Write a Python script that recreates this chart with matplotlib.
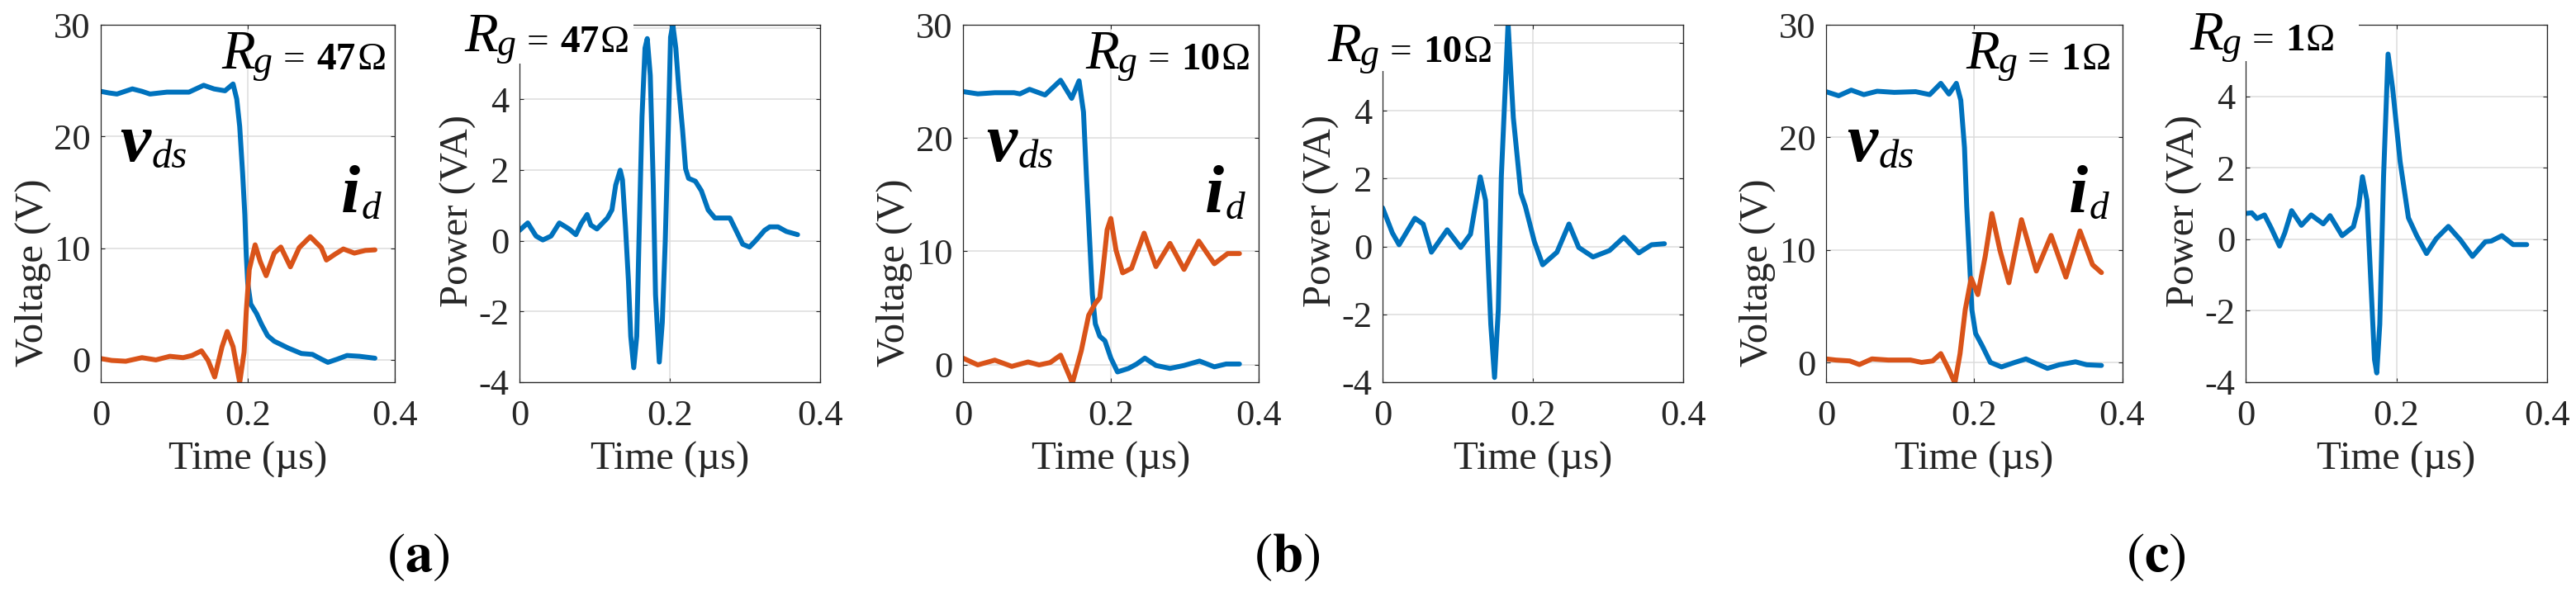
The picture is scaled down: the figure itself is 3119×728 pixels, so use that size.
import matplotlib
matplotlib.use("Agg")
import matplotlib.pyplot as plt
from matplotlib.patches import Rectangle

plt.rcParams['mathtext.fontset'] = 'stix'
plt.rcParams['font.family'] = ['Liberation Serif', 'DejaVu Serif']
plt.rcParams['axes.unicode_minus'] = False

BLUE = '#0072BD'
ORANGE = '#D95319'
DARK = '#262626'
GRID = '#dcdcdc'

# ---------------- data (a) Rg = 47 ohm ----------------
t_vds_a = [0, 0.011, 0.022, 0.043, 0.056, 0.067, 0.09, 0.12, 0.14, 0.154, 0.169, 0.18, 0.185, 0.189,
           0.193, 0.196, 0.198, 0.2, 0.204, 0.212, 0.219, 0.227, 0.236, 0.255, 0.273, 0.288, 0.3,
           0.309, 0.322, 0.335, 0.352, 0.373]
vds_a = [24.04, 23.9, 23.8, 24.26, 24.04, 23.8, 23.97, 23.97, 24.58, 24.26, 24.09, 24.7, 23.35, 20.9,
         16.7, 13.0, 9.3, 6.85, 5.0, 4.14, 3.15, 2.17, 1.67, 1.06, 0.57, 0.49, 0.07,
         -0.22, 0.07, 0.39, 0.32, 0.15]
t_id_a = [0, 0.015, 0.034, 0.056, 0.075, 0.094, 0.112, 0.124, 0.137, 0.146, 0.155, 0.165, 0.172, 0.18,
          0.189, 0.195, 0.198, 0.202, 0.21, 0.217, 0.225, 0.236, 0.245, 0.258, 0.27, 0.285, 0.3,
          0.307, 0.318, 0.33, 0.345, 0.36, 0.373]
id_a = [0.12, -0.05, -0.12, 0.2, 0.0, 0.32, 0.2, 0.39, 0.81, -0.05, -1.53, 1.18, 2.54, 1.18,
        -2.02, 0.69, 4.38, 8.08, 10.3, 8.8, 7.54, 9.56, 10.1, 8.33, 10.05, 11.03, 10.05,
        8.94, 9.43, 9.93, 9.56, 9.8, 9.85]
t_p_a = [0, 0.011, 0.022, 0.031, 0.042, 0.053, 0.066, 0.075, 0.082, 0.09, 0.095, 0.103, 0.117, 0.123,
         0.128, 0.134, 0.137, 0.141, 0.145, 0.148, 0.152, 0.156, 0.159, 0.163, 0.167, 0.17, 0.174,
         0.178, 0.181, 0.186, 0.19, 0.194, 0.198, 0.201, 0.204, 0.208, 0.212, 0.217, 0.221, 0.225,
         0.234, 0.242, 0.251, 0.26, 0.271, 0.28, 0.289, 0.297, 0.306, 0.315, 0.326, 0.333, 0.344,
         0.355, 0.37]
p_a = [0.29, 0.5, 0.13, 0.02, 0.13, 0.5, 0.33, 0.17, 0.48, 0.74, 0.44, 0.33, 0.64, 0.87,
       1.57, 1.99, 1.72, 0.4, -1.15, -2.7, -3.59, -2.7, 0.02, 3.5, 5.44, 5.71, 4.67,
       1.57, -1.53, -3.43, -2.31, 0.02, 3.12, 5.75, 6.1, 5.44, 4.28, 3.12, 2.03, 1.76,
       1.68, 1.41, 0.87, 0.64, 0.64, 0.64, 0.25, -0.1, -0.18, 0.02, 0.29, 0.39, 0.39,
       0.26, 0.17]

# ---------------- data (b) Rg = 10 ohm ----------------
t_vds_b = [0, 0.02, 0.043, 0.069, 0.077, 0.09, 0.111, 0.132, 0.147, 0.157, 0.163, 0.167, 0.171, 0.175,
           0.179, 0.185, 0.192, 0.2, 0.209, 0.224, 0.235, 0.246, 0.261, 0.28, 0.299, 0.32, 0.34, 0.356, 0.374]
vds_b = [24.1, 23.9, 24.0, 24.0, 23.9, 24.3, 23.8, 25.1, 23.5, 25.05, 22.3, 16.6, 11.4, 6.2,
         3.6, 2.5, 2.1, 0.57, -0.65, -0.34, 0.05, 0.57, -0.08, -0.34, -0.08, 0.31, -0.2, 0.05, 0.05]
t_id_b = [0, 0.02, 0.043, 0.066, 0.088, 0.103, 0.118, 0.132, 0.148, 0.16, 0.17, 0.179, 0.185, 0.19,
          0.195, 0.2, 0.207, 0.216, 0.228, 0.245, 0.261, 0.28, 0.299, 0.319, 0.34, 0.358, 0.374]
id_b = [0.57, -0.03, 0.39, -0.16, 0.23, -0.03, 0.18, 0.83, -1.64, 1.22, 4.35, 5.4, 5.9, 8.8,
        11.9, 12.9, 10.1, 8.1, 8.5, 11.6, 8.65, 10.7, 8.4, 10.9, 8.9, 9.8, 9.8]
t_p_b = [0, 0.013, 0.022, 0.043, 0.054, 0.065, 0.086, 0.104, 0.117, 0.13, 0.137, 0.144, 0.149, 0.154,
         0.158, 0.167, 0.174, 0.184, 0.19, 0.202, 0.213, 0.232, 0.248, 0.261, 0.28, 0.302, 0.321, 0.341, 0.358, 0.375]
p_b = [1.14, 0.4, 0.05, 0.83, 0.66, -0.17, 0.49, -0.03, 0.36, 2.05, 1.36, -2.3, -3.86, -1.86,
       2.05, 6.57, 3.79, 1.57, 1.18, 0.14, -0.54, -0.17, 0.66, -0.03, -0.31, -0.12, 0.27, -0.19, 0.05, 0.08]

# ---------------- data (c) Rg = 1 ohm ----------------
t_vds_c = [0, 0.017, 0.034, 0.051, 0.069, 0.092, 0.121, 0.14, 0.155, 0.166, 0.176, 0.182, 0.187, 0.19,
           0.194, 0.197, 0.202, 0.211, 0.222, 0.237, 0.255, 0.27, 0.285, 0.299, 0.315, 0.337, 0.352, 0.372]
vds_c = [24.06, 23.7, 24.2, 23.8, 24.1, 24.0, 24.06, 23.8, 24.8, 23.85, 24.8, 23.3, 19.1, 13.9,
         8.7, 4.7, 2.6, 1.5, 0.03, -0.37, 0.03, 0.34, -0.1, -0.5, -0.18, 0.08, -0.18, -0.24]
t_id_c = [0, 0.013, 0.032, 0.045, 0.062, 0.084, 0.114, 0.129, 0.144, 0.155, 0.165, 0.174, 0.181, 0.188,
          0.196, 0.205, 0.215, 0.224, 0.235, 0.247, 0.264, 0.284, 0.304, 0.324, 0.343, 0.36, 0.372]
id_c = [0.34, 0.24, 0.16, -0.16, 0.34, 0.24, 0.24, 0.03, 0.16, 0.81, -0.5, -1.8, 0.81, 4.7,
        7.5, 6.05, 9.45, 13.25, 9.95, 7.1, 12.7, 8.14, 11.3, 7.6, 11.7, 8.7, 8.0]
t_p_c = [0, 0.008, 0.015, 0.025, 0.034, 0.045, 0.052, 0.061, 0.074, 0.087, 0.103, 0.112, 0.128, 0.143,
         0.15, 0.155, 0.161, 0.166, 0.171, 0.174, 0.178, 0.183, 0.189, 0.195, 0.205, 0.216, 0.227, 0.24,
         0.253, 0.269, 0.285, 0.301, 0.318, 0.326, 0.34, 0.355, 0.373]
p_c = [0.72, 0.74, 0.58, 0.68, 0.31, -0.19, 0.18, 0.8, 0.39, 0.68, 0.43, 0.66, 0.1, 0.35,
       0.93, 1.75, 1.09, -1.14, -3.37, -3.74, -2.38, 1.75, 5.18, 4.23, 2.17, 0.6, 0.1, -0.4,
       0.02, 0.36, -0.02, -0.48, -0.07, -0.05, 0.1, -0.15, -0.15]

panels = ['a', 'b', 'c']
rg_values = ['47', '10', '1']
v_ylims = [(-2.0, 30), (-1.56, 30), (-1.73, 30)]
p_ylims = [(-4, 6.1), (-4, 6.53), (-4, 6.0)]
v_ticks = [0, 10, 20, 30]
p_ticks = [-4, -2, 0, 2, 4, 6]
p_ticklabels = ['-4', '-2', '0', '2', '4', '']
x_ticks = [0, 0.2, 0.4]
x_ticklabels = ['0', '0.2', '0.4']

vds_data = [(t_vds_a, vds_a), (t_vds_b, vds_b), (t_vds_c, vds_c)]
id_data = [(t_id_a, id_a), (t_id_b, id_b), (t_id_c, id_c)]
p_data = [(t_p_a, p_a), (t_p_b, p_b), (t_p_c, p_c)]

W, H = 3119, 728
fig = plt.figure(figsize=(W / 100, H / 100), dpi=100)

ax_top, ax_bot = 30, 463
v_lefts = [122, 1166, 2211]
v_widths = [356, 358, 358.5]
p_lefts = [629, 1674, 2719]
p_widths = [364, 364, 365]
caption_x = [506, 1558, 2610]

v_text_pos = [0.97, 0.972, 0.962]
p_text_pos = [(0.365, 0.924), (0.365, 0.896), (0.296, 0.929)]
p_mask = [(0.379, 0.892), (0.371, 0.871), (0.375, 0.899)]   # right edge, bottom of white mask
EQ_SIZE = 34
R_SIZE = 48
G_SIZE = 33
vds_pos = [0.065, 0.08, 0.071]
id_pos = [0.817, 0.818, 0.82]
LW = 4.3


def rect(left, width):
    return [left / W, 1 - ax_bot / H, width / W, (ax_bot - ax_top) / H]


def style(ax):
    ax.tick_params(direction='in', length=3.6, width=0.8, top=True, right=True,
                   labelsize=32, colors=DARK, pad=9)
    ax.tick_params(axis='x', pad=15)
    for s in ax.spines.values():
        s.set_color(DARK)
        s.set_linewidth(0.9)
    ax.grid(True, color=GRID, linewidth=1.1)
    ax.set_axisbelow(True)
    ax.set_xlim(0, 0.4)
    ax.set_xticks(x_ticks)
    ax.set_xticklabels(x_ticklabels)
    ax.set_xlabel('Time (µs)', fontsize=35, color=DARK)
    ax.xaxis.set_label_coords(0.5, -0.166)


def rg_label(ax, x, y, val):
    # built right-to-left: Ω, value (bold), '=', g (italic, lowered), R (italic, large)
    kw = dict(color='black', zorder=12, annotation_clip=False, textcoords='offset points',
              ha='right', va='bottom')
    t_om = ax.text(x, y, 'Ω', transform=ax.transAxes, ha='right', va='baseline',
                   fontsize=EQ_SIZE, color='black', zorder=12, clip_on=False)
    t_val = ax.annotate(val, xy=(0, 0), xycoords=t_om, xytext=(-1, 0),
                        fontsize=EQ_SIZE, weight='bold', **kw)
    t_eq = ax.annotate('=', xy=(0, 0), xycoords=t_val, xytext=(-10, 0),
                       fontsize=EQ_SIZE, **kw)
    t_g = ax.annotate('g', xy=(0, 0), xycoords=t_eq, xytext=(-9, -3),
                      fontsize=G_SIZE, style='italic', **kw)
    ax.annotate('R', xy=(0, 0), xycoords=t_g, xytext=(1, 1),
                fontsize=R_SIZE, style='italic', **kw)


for i in range(3):
    # voltage / current axes
    axv = fig.add_axes(rect(v_lefts[i], v_widths[i]))
    style(axv)
    tv, vv = vds_data[i]
    ti, ii = id_data[i]
    axv.plot(tv, vv, color=BLUE, lw=LW, solid_joinstyle='round', solid_capstyle='round')
    axv.plot(ti, ii, color=ORANGE, lw=LW, solid_joinstyle='round', solid_capstyle='round')
    axv.set_ylim(*v_ylims[i])
    axv.set_yticks(v_ticks)
    axv.set_ylabel('Voltage (V)', fontsize=35, color=DARK)
    axv.yaxis.set_label_coords(-0.169, 0.307)
    rg_label(axv, v_text_pos[i], 0.875, rg_values[i])
    tv1 = axv.text(vds_pos[i], 0.619, 'v', transform=axv.transAxes, fontsize=60,
                   style='italic', weight='bold', va='baseline', ha='left', color='black')
    axv.annotate('ds', xy=(1, 0), xycoords=tv1, xytext=(1, 0), textcoords='offset points',
                 fontsize=35, style='italic', va='bottom', ha='left', color='black')
    ti1 = axv.text(id_pos[i], 0.476, 'i', transform=axv.transAxes, fontsize=60,
                   style='italic', weight='bold', va='baseline', ha='left', color='black')
    axv.annotate('d', xy=(1, 0), xycoords=ti1, xytext=(1, 0), textcoords='offset points',
                 fontsize=34, style='italic', va='bottom', ha='left', color='black')

    # power axes
    axp = fig.add_axes(rect(p_lefts[i], p_widths[i]))
    style(axp)
    tp, pp = p_data[i]
    axp.plot(tp, pp, color=BLUE, lw=LW, solid_joinstyle='round', solid_capstyle='round')
    axp.set_ylim(*p_ylims[i])
    axp.set_yticks(p_ticks)
    axp.set_yticklabels(p_ticklabels)
    axp.set_ylabel('Power (VA)', fontsize=35, color=DARK)
    axp.yaxis.set_label_coords(-0.143, 0.48)
    mr, mb = p_mask[i]
    axp.add_patch(Rectangle((-0.3, mb), mr + 0.3, 1.12 - mb, transform=axp.transAxes,
                            facecolor='white', edgecolor='none', zorder=11, clip_on=False))
    rg_label(axp, p_text_pos[i][0], p_text_pos[i][1], rg_values[i])

    fig.text(caption_x[i] / W, 1 - 692 / H, r'$(\mathbf{' + panels[i] + r'})$',
             fontsize=48, ha='center', va='baseline', color='black')

fig.savefig('out.png', dpi=100, facecolor='white')
